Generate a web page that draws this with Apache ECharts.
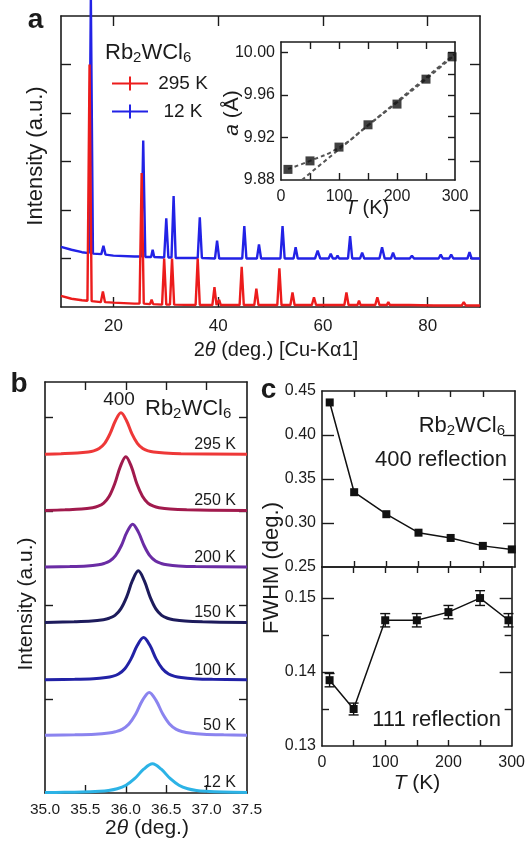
<!DOCTYPE html>
<html><head><meta charset="utf-8">
<script src="https://cdn.jsdelivr.net/npm/echarts@6/dist/echarts.min.js"></script>
<style>html,body{margin:0;padding:0;background:#fff}#c{width:528px;height:846px}</style>
</head><body><div id="c"></div>
<script>
// ---------- Panel a : XRD patterns [2theta, intensity] ----------
const xrd12K = [[10,1.24],[12,1.18],[14,1.13],[15.3,1.11],[15.7,6.4],[16.1,1.10],[17.7,1.09],[18.1,1.26],[18.5,1.08],[20,1.06],[24,1.04],[25.3,1.04],[25.7,3.43],[26.1,1.03],[27.2,1.03],[27.5,1.18],[27.8,1.03],[29.7,1.02],[30.1,1.83],[30.5,1.02],[31.1,1.02],[31.5,2.29],[31.9,1.01],[35,1.01],[36.1,1.01],[36.5,1.85],[36.9,1.01],[39.4,1.0],[39.8,1.37],[40.2,1.0],[44.6,1.0],[45.0,1.67],[45.4,1.0],[47.4,1.0],[47.8,1.29],[48.2,1.0],[51.9,1.0],[52.3,1.67],[52.7,1.0],[54.4,1.0],[54.8,1.23],[55.2,1.0],[58.5,1.0],[59.0,1.16],[59.5,1.0],[61.1,1.0],[61.5,1.10],[61.9,1.0],[62.5,1.0],[62.8,1.06],[63.1,1.0],[64.8,1.0],[65.2,1.46],[65.6,1.0],[67.1,1.0],[67.5,1.12],[67.9,1.0],[70.8,1.0],[71.3,1.23],[71.8,1.0],[73.0,1.0],[73.4,1.12],[73.8,1.0],[76.6,1.0],[77.0,1.06],[77.4,1.0],[82.1,1.0],[82.5,1.08],[82.9,1.0],[84.1,1.0],[84.5,1.08],[84.9,1.0],[87.6,1.0],[88.0,1.13],[88.4,1.0],[90,1.0]];
const xrd295K = [[10,0.23],[12,0.17],[14,0.14],[15.05,0.13],[15.45,5.0],[15.85,0.12],[17.6,0.10],[18.0,0.32],[18.4,0.10],[20,0.09],[24,0.07],[25.0,0.07],[25.4,2.76],[25.8,0.07],[27.0,0.06],[27.3,0.15],[27.6,0.06],[29.3,0.05],[29.7,1.0],[30.1,0.05],[30.8,0.05],[31.2,1.0],[31.6,0.05],[35.7,0.04],[36.1,1.0],[36.5,0.04],[38.9,0.04],[39.3,0.41],[39.7,0.04],[40.0,0.04],[40.2,0.15],[40.5,0.04],[44.1,0.04],[44.5,0.83],[44.9,0.04],[46.9,0.04],[47.3,0.38],[47.7,0.04],[51.3,0.04],[51.7,0.80],[52.1,0.04],[53.8,0.04],[54.2,0.30],[54.6,0.04],[57.9,0.04],[58.3,0.20],[58.7,0.04],[60.5,0.04],[60.8,0.08],[61.1,0.04],[64.1,0.04],[64.5,0.30],[64.9,0.04],[66.6,0.04],[66.9,0.13],[67.2,0.04],[70.0,0.04],[70.4,0.20],[70.8,0.04],[72.2,0.04],[72.5,0.10],[72.8,0.04],[75.9,0.04],[76.2,0.05],[76.5,0.04],[81.2,0.03],[81.5,0.06],[81.8,0.03],[83.2,0.03],[83.5,0.06],[83.8,0.03],[86.5,0.03],[86.9,0.10],[87.3,0.03],[90,0.03]];
const xrdAxisTicks = [20,40,60,80];

// ---------- Panel a inset : lattice constant ----------
const insetT = [12,50,100,150,200,250,295];
const insetA = [9.890,9.898,9.911,9.932,9.9515,9.975,9.996];
const insetFitCurve = [[12,9.8905],[50,9.898],[100,9.9105],[150,9.9315],[200,9.953],[250,9.975],[300,9.998]];
const insetFitLine = [[36,9.88],[300,9.999]];
const insetYLabels = [9.88,9.92,9.96,10.00];

// ---------- Panel b : 400 peak profiles (offset for clarity) ----------
const peakNames = ['295 K','250 K','200 K','150 K','100 K','50 K','12 K'];
const peak295 = [[35.0,3.604],[35.198,3.609],[35.40,3.616],[35.535,3.627],[35.603,3.639],[35.67,3.664],[35.738,3.719],[35.805,3.822],[35.873,3.962],[35.94,4.044],[36.008,3.962],[36.075,3.822],[36.143,3.719],[36.21,3.664],[36.278,3.639],[36.345,3.627],[36.48,3.616],[36.683,3.609],[37.5,3.603]];
const peak250 = [[35.0,3.005],[35.247,3.012],[35.452,3.020],[35.589,3.035],[35.658,3.051],[35.726,3.084],[35.795,3.156],[35.863,3.289],[35.932,3.472],[36.0,3.578],[36.069,3.472],[36.137,3.289],[36.206,3.156],[36.274,3.084],[36.343,3.051],[36.411,3.035],[36.548,3.020],[36.754,3.012],[37.5,3.004]];
const peak200 = [[35.0,2.404],[35.307,2.409],[35.519,2.416],[35.661,2.428],[35.731,2.441],[35.802,2.467],[35.873,2.524],[35.944,2.63],[36.014,2.775],[36.085,2.86],[36.156,2.775],[36.227,2.63],[36.297,2.524],[36.368,2.467],[36.439,2.441],[36.51,2.428],[36.651,2.416],[36.863,2.409],[37.5,2.403]];
const peak150 = [[35.0,1.814],[35.36,1.821],[35.577,1.829],[35.722,1.844],[35.794,1.859],[35.866,1.89],[35.938,1.959],[36.011,2.087],[36.083,2.261],[36.155,2.363],[36.227,2.261],[36.30,2.087],[36.372,1.959],[36.444,1.89],[36.516,1.859],[36.589,1.844],[36.733,1.829],[36.95,1.821],[37.5,1.813]];
const peak100 = [[35.0,1.204],[35.368,1.209],[35.60,1.216],[35.755,1.228],[35.833,1.240],[35.91,1.266],[35.988,1.322],[36.065,1.427],[36.143,1.571],[36.22,1.654],[36.298,1.571],[36.375,1.427],[36.453,1.322],[36.53,1.266],[36.608,1.240],[36.685,1.228],[36.84,1.216],[37.073,1.209],[37.5,1.205]];
const peak50 = [[35.0,0.614],[35.369,0.619],[35.62,0.626],[35.788,0.638],[35.871,0.651],[35.955,0.677],[36.039,0.734],[36.123,0.84],[36.206,0.985],[36.29,1.07],[36.374,0.985],[36.458,0.84],[36.541,0.734],[36.625,0.677],[36.709,0.651],[36.793,0.638],[36.96,0.626],[37.211,0.619],[37.5,0.615]];
const peak12 = [[35.0,0.004],[35.13,0.006],[35.456,0.011],[35.675,0.019],[35.784,0.027],[35.893,0.045],[36.002,0.083],[36.112,0.155],[36.221,0.253],[36.33,0.31],[36.439,0.253],[36.548,0.155],[36.658,0.083],[36.767,0.045],[36.876,0.027],[36.986,0.019],[37.204,0.011],[37.5,0.006]];
const peakSeries = [peak295,peak250,peak200,peak150,peak100,peak50,peak12];
const peakBaselines = [3.60,3.0,2.40,1.81,1.20,0.61,0.0];
const peakXTicks = [35.5,36.0,36.5,37.0];
const peakXLabels = [35.0,35.5,36.0,36.5,37.0,37.5];

// ---------- Panel c : FWHM ----------
const fwhmT = [12,50,100,150,200,250,295];
const fwhm400 = [0.437,0.335,0.310,0.289,0.283,0.274,0.270];
const fwhm111 = [0.1389,0.1350,0.1470,0.1470,0.1481,0.1500,0.1470];
const fwhm111Err = [0.0009,0.0008,0.0009,0.0009,0.0009,0.0010,0.0009];
const tTicks = [50,100,150,200,250];
const tLabels = [0,100,200,300];

// ---------- styles ----------
const INK = '#1b1b1b';
const FONT = '"Liberation Sans", Arial, Helvetica, sans-serif';
const peakColors = ['#ee3838','#a11a4d','#6a2ca4','#1d1b5c','#2222a6','#8b84ef','#2cb3e6'];

function mkAxis(g, pos, min, max, tickLen, ticks, labels, fmt, fs, margin, showLine) {
  return {
    type:'value', gridIndex:g, position:pos, min:min, max:max,
    axisLine:{show: showLine !== false, onZero:false, lineStyle:{color:INK, width:1.6}},
    axisTick:{show: ticks.length > 0, inside:true, length:tickLen, customValues:ticks, lineStyle:{color:INK, width:1.4}},
    axisLabel: labels ? {show:true, customValues:labels, formatter:fmt, fontSize:fs, margin:margin, color:INK, fontFamily:FONT} : {show:false},
    splitLine:{show:false}
  };
}
const fmt0 = v => String(Math.round(v));
const fmt1 = v => v.toFixed(1);
const fmt2 = v => v.toFixed(2);

const chart = echarts.init(document.getElementById('c'));

const xAxis = [
  mkAxis(0,'bottom',10,90,10,xrdAxisTicks,xrdAxisTicks,fmt0,17,11),
  mkAxis(0,'top',10,90,10,xrdAxisTicks,null),
  mkAxis(1,'bottom',0,300,7,tTicks,tLabels,fmt0,16,9),
  mkAxis(1,'top',0,300,7,tTicks,null),
  mkAxis(2,'bottom',35,37.5,8,peakXTicks,peakXLabels,fmt1,15.5,9),
  mkAxis(2,'top',35,37.5,8,peakXTicks,null),
  mkAxis(3,'bottom',0,300,6,tTicks,null),
  mkAxis(3,'top',0,300,6,tTicks,null),
  mkAxis(4,'bottom',0,300,6,tTicks,tLabels,fmt0,16,9),
  mkAxis(4,'top',0,300,6,tTicks,null)
];
const yAxis = [
  mkAxis(0,'left',0,6,10,[1,2,3,4,5],null),
  mkAxis(0,'right',0,6,10,[1,2,3,4,5],null),
  mkAxis(1,'left',9.88,10.01,7,[9.92,9.96,10.00],insetYLabels,fmt2,16,6),
  mkAxis(1,'right',9.88,10.01,7,[9.90,9.92,9.94,9.96,9.98,10.00],null),
  mkAxis(2,'left',0,4.372,8,[1,2,3,4],null),
  mkAxis(2,'right',0,4.372,8,[1,2,3,4],null),
  mkAxis(3,'left',0.25,0.45,12,[0.30,0.35,0.40],[0.25,0.30,0.35,0.40,0.45],fmt2,16,6),
  mkAxis(3,'right',0.25,0.45,12,[0.30,0.35,0.40],null),
  mkAxis(4,'left',0.13,0.1542,12,[0.14,0.15],[0.13,0.14,0.15],fmt2,16,6),
  mkAxis(4,'right',0.13,0.1542,12,[0.14,0.15],null),
  mkAxis(4,'left',0.13,0.1542,7,[0.135,0.145],null,null,0,0,false),
  mkAxis(4,'right',0.13,0.1542,7,[0.135,0.145],null,null,0,0,false)
];

const series = [
  {name:'12 K', type:'line', xAxisIndex:0, yAxisIndex:0, data:xrd12K, showSymbol:false, clip:false, color:'#2222e6', lineStyle:{width:2.4, color:'#2222e6'}, z:2},
  {name:'295 K', type:'line', xAxisIndex:0, yAxisIndex:0, data:xrd295K, showSymbol:false, clip:false, color:'#ec1c1c', lineStyle:{width:2.4, color:'#ec1c1c'}, z:3},
  {name:'fitCurve', type:'line', xAxisIndex:2, yAxisIndex:2, data:insetFitCurve, smooth:true, showSymbol:false, lineStyle:{width:2, color:'#555', type:[4,3]}},
  {name:'fitLine', type:'line', xAxisIndex:2, yAxisIndex:2, data:insetFitLine, showSymbol:false, lineStyle:{width:2, color:'#555', type:[4,3]}},
  {name:'aLattice', type:'scatter', xAxisIndex:2, yAxisIndex:2, data:insetT.map((t,i)=>[t,insetA[i]]), symbol:'rect', symbolSize:9, itemStyle:{color:'#111'}, z:5}
];
peakSeries.forEach((d,i)=>{
  series.push({name:'b'+peakNames[i], type:'line', xAxisIndex:4, yAxisIndex:4, data:d, smooth:0.35, showSymbol:false, clip:false, lineStyle:{width:3, color:peakColors[i]}, color:peakColors[i]});
});
series.push(
  {name:'fw400', type:'line', xAxisIndex:6, yAxisIndex:6, data:fwhmT.map((t,i)=>[t,fwhm400[i]]), symbol:'rect', symbolSize:8, lineStyle:{width:1.5, color:'#111'}, itemStyle:{color:'#111'}, z:5},
  {name:'fw111err', type:'custom', xAxisIndex:8, yAxisIndex:8, data:fwhmT.map((t,i)=>[t,fwhm111[i],fwhm111Err[i]]),
   encode:{x:0,y:1},
   renderItem:function(params, api){
     const x = api.value(0), y = api.value(1), e = api.value(2);
     const p1 = api.coord([x, y-e]), p2 = api.coord([x, y+e]);
     const hw = 5, st = {stroke:'#111', lineWidth:1.4};
     return {type:'group', children:[
       {type:'line', shape:{x1:p1[0], y1:p1[1], x2:p2[0], y2:p2[1]}, style:st},
       {type:'line', shape:{x1:p1[0]-hw, y1:p1[1], x2:p1[0]+hw, y2:p1[1]}, style:st},
       {type:'line', shape:{x1:p2[0]-hw, y1:p2[1], x2:p2[0]+hw, y2:p2[1]}, style:st}
     ]};
   }, z:4},
  {name:'fw111', type:'line', xAxisIndex:8, yAxisIndex:8, data:fwhmT.map((t,i)=>[t,fwhm111[i]]), symbol:'rect', symbolSize:8, lineStyle:{width:1.5, color:'#111'}, itemStyle:{color:'#111'}, z:5}
);

chart.setOption({
  animation:false,
  backgroundColor:'#fff',
  grid:[
    {left:61, top:16, width:419, height:291},
    {left:281, top:42, width:174, height:138, show:true, backgroundColor:'#fff', borderWidth:0},
    {left:45, top:382, width:202, height:411},
    {left:322, top:391, width:193, height:176},
    {left:322, top:567, width:193, height:179}
  ],
  xAxis:xAxis, yAxis:yAxis, series:series,
  legend:{show:true, orient:'vertical', left:107, top:69, itemWidth:36, itemHeight:14, itemGap:9,
    icon:'path://M0,6h36v2h-36z M17,0h2v14h-2z', data:['295 K','12 K'], selectedMode:false,
    formatter:n => '{t|' + n + '}',
    textStyle:{color:INK, fontFamily:FONT, fontSize:19, padding:[0,0,0,2],
      rich:{t:{width:56, align:'center', fontSize:19, fontFamily:FONT, color:INK}}}}
});

// ---------- text annotations ----------
function txt(x, y, text, size, opt) {
  opt = opt || {};
  return {type:'text', x:x, y:y, rotation:opt.rot || 0, silent:true, z:100,
    style:{text:text, fill:INK, fontSize:size, fontFamily:FONT, fontWeight:opt.bold ? 'bold' : 'normal',
      align:opt.align || 'center', verticalAlign:'middle',
      rich:{
        s:{fontSize:Math.round(size*0.68), fontFamily:FONT, padding:[Math.round(size*0.45),0,0,0]},
        i:{fontSize:size, fontFamily:FONT, fontStyle:'italic'}
      }}};
}
const R = Math.PI/2;
const g = [
  txt(35.5, 20, 'a', 28, {bold:true}),
  txt(19, 384, 'b', 28, {bold:true}),
  txt(268.5, 390, 'c', 28, {bold:true}),
  txt(105, 53, 'Rb{s|2}WCl{s|6}', 22, {align:'left'}),
  txt(36, 156, 'Intensity (a.u.)', 22, {rot:R}),
  txt(276, 350, '2{i|θ} (deg.) [Cu-Kα1]', 20),
  txt(232, 113, '{i|a} (Å)', 21, {rot:R}),
  txt(367, 208, '{i|T} (K)', 20),
  txt(119, 400, '400', 19),
  txt(145, 409, 'Rb{s|2}WCl{s|6}', 22, {align:'left'}),
  txt(26, 604, 'Intensity (a.u.)', 21, {rot:R}),
  txt(147, 828, '2{i|θ} (deg.)', 21),
  txt(505, 426, 'Rb{s|2}WCl{s|6}', 22, {align:'right'}),
  txt(507, 460, '400 reflection', 22, {align:'right'}),
  txt(501, 720, '111 reflection', 22, {align:'right'}),
  txt(272, 568, 'FWHM (deg.)', 22, {rot:R}),
  txt(417, 783, '{i|T} (K)', 21)
];
peakBaselines.forEach((b,i)=>{
  const p = chart.convertToPixel({xAxisIndex:4, yAxisIndex:4}, [37.5, b]);
  g.push(txt(p[0]-11, p[1]-10, peakNames[i], 16, {align:'right'}));
});
chart.setOption({graphic:g});
</script>
</body></html>
